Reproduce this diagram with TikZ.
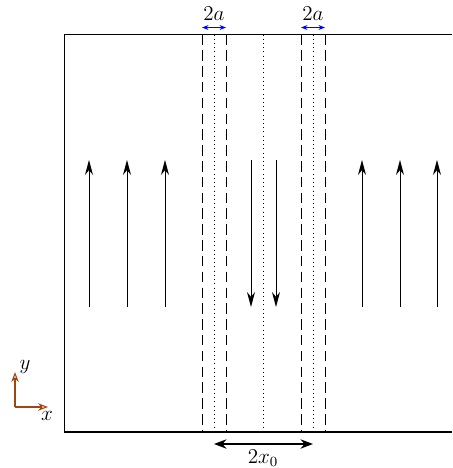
\documentclass[tikz,border=0pt]{standalone}
\usepackage{amsmath}
\usetikzlibrary{arrows.meta}
\definecolor{axisbrown}{RGB}{160,70,20}

\begin{document}
\begin{tikzpicture}[x={(0.02cm,0)},y={(0,-0.02cm)},every node/.style={font=\fontsize{11.5}{13}\selectfont}]
	\useasboundingbox (0,0) rectangle (453,468);
	% channel walls
	\draw [line width =0.8pt] (452.5,34.5) -- (64.7,34.5) -- (64.7,432) -- (452.5,432);
	% dashed and dotted lines
	\foreach \xx in {202,226,301,325}
		\draw [dashed, dash pattern=on 6pt off 3pt] (\xx,34.5) -- (\xx,432);
	\foreach \xx in {214,263,313}
		\draw [dotted] (\xx,34.5) -- (\xx,432);
	% flow arrows
	\foreach \xx in {89,127,165,362,400,437}
		\draw [line width =0.5pt,-{Stealth[length=3mm,width=1.6mm]}] (\xx,307) -- (\xx,160);
	\foreach \xx in {251,276}
		\draw [line width =0.5pt,-{Stealth[length=3mm,width=1.6mm]}] (\xx,160) -- (\xx,307);
	% widths
	\draw [blue, {Stealth[length=1.3mm]}-{Stealth[length=1.3mm]}] (202,27.5) -- (226,27.5);
	\node (al) at (214,14) {$2a$};
	\draw [blue, {Stealth[length=1.3mm]}-{Stealth[length=1.3mm]}] (301,27.5) -- (325,27.5);
	\node (ar) at (313,14) {$2a$};
	\draw [line width =0.8pt, {Stealth[length=2.5mm]}-{Stealth[length=2.5mm]}] (214,444) -- (313,444);
	\node (xo) at (263,458) {$2x_0$};
	% axes
	\draw [axisbrown, line width=0.6pt, -{Stealth[open,length=2mm]}] (15,407) -- (15,372);
	\draw [axisbrown, line width=0.6pt, -{Stealth[open,length=2mm]}] (15,407) -- (48,407);
	\node (ly) at (25,367) {$y$};
	\node (lx) at (47,416) {$x$};
\end{tikzpicture}
\end{document}
